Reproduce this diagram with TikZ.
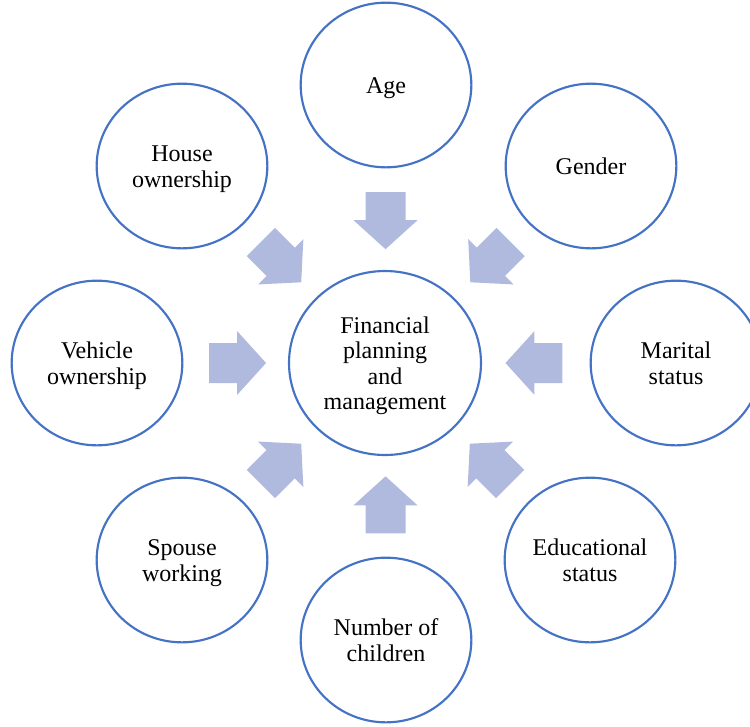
\documentclass[tikz,border=0pt]{standalone}
\usepackage{fontspec}
\setmainfont{Liberation Serif}
\usetikzlibrary{shapes.geometric}
\usetikzlibrary{calc}

\definecolor{ringblue}{RGB}{68,114,196}
\definecolor{arrowfill}{RGB}{175,186,222}

% lowered block of centred lines
\newcommand\circtext[1]{\raisebox{-2.6pt}[\height][\depth]{\begin{tabular}{@{}c@{}}#1\end{tabular}}}

\tikzset{
  factor/.style={ellipse, draw=ringblue, line width=1.6pt, fill=white, minimum width=128pt, minimum height=123.5pt, inner sep=0pt, font=\fontsize{18}{19}\selectfont},
  core/.style={factor, minimum width=144pt, minimum height=138pt},
  inarrow/.pic={\fill[arrowfill] (-28.5,-20) -- (-0.5,-20) -- (-0.5,-32) -- (28.5,0) -- (-0.5,32) -- (-0.5,20) -- (-28.5,20) -- cycle;}
}

\begin{document}
\begin{tikzpicture}[x=0.75pt,y=0.75pt,yscale=-1,xscale=1]
\useasboundingbox (0,0) rectangle (750,726);

% Centre
\node[core] (fin) at (385,363) {\circtext{Financial\\planning\\and\\management}};

% Factors
\node[factor] (age) at (386,85) {\circtext{Age}};
\node[factor] (gender) at (591,166) {\circtext{Gender}};
\node[factor] (marital) at (676,363) {\circtext{Marital\\status}};
\node[factor] (edu) at (590,560) {\circtext{Educational\\status}};
\node[factor] (children) at (386,640) {\circtext{Number of\\children}};
\node[factor] (spouse) at (182,560) {\circtext{Spouse\\working}};
\node[factor] (vehicle) at (97,363) {\circtext{Vehicle\\ownership}};
\node[factor] (house) at (182,166) {\circtext{House\\ownership}};

% Block arrows pointing to the centre
\foreach \src/\ang in {age/-90, gender/-135, marital/180, edu/135, children/90, spouse/45, vehicle/0, house/-45}
  \pic[rotate=\ang] at ($(\src)!0.488!(fin)$) {inarrow};

\end{tikzpicture}
\end{document}
